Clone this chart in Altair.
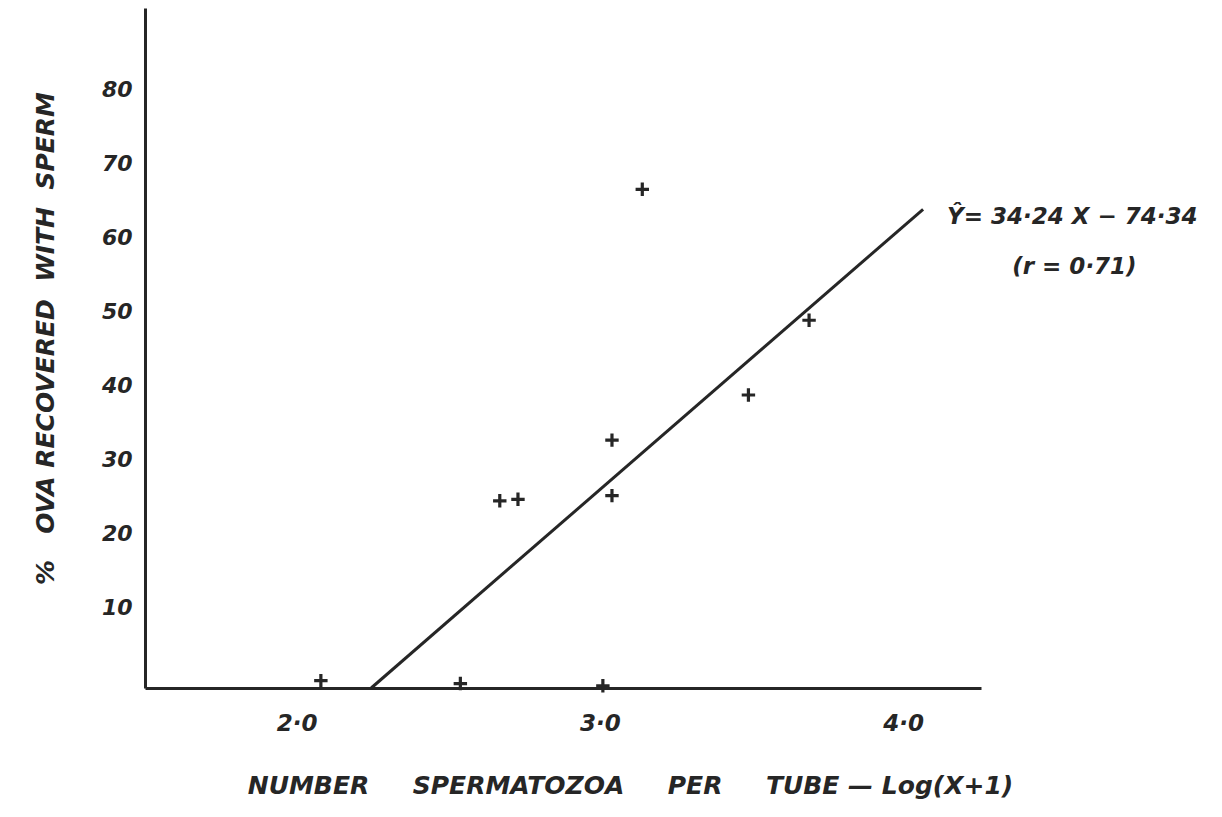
import altair as alt
import pandas as pd

# Observed points (log10 sperm count + 1, % ova recovered with sperm)
log_sperm = [2.08, 2.54, 3.01, 2.67, 2.73, 3.04, 3.04, 3.14, 3.49, 3.69]
pct_ova = [1.0, 0.6, 0.3, 25.3, 25.5, 26.0, 33.5, 67.4, 39.6, 49.7]

# Regression line endpoints as drawn
line_x = [2.246, 4.066]
line_y = [0.0, 64.7]

x_ticks = [2.0, 3.0, 4.0]
y_ticks = [10, 20, 30, 40, 50, 60, 70, 80]

eq_text = ["Ŷ= 34·24 X − 74·34", "(r = 0·71)"]
eq_x = [4.145, 4.36]
eq_y = [63.6, 56.9]

pts = pd.DataFrame({"x": log_sperm, "y": pct_ova})
ln = pd.DataFrame({"x": line_x, "y": line_y})
ann = pd.DataFrame({"t": eq_text, "x": eq_x, "y": eq_y})

FONT = "DejaVu Sans"
INK = "#262626"
SP = "\u00a0"

x_title = (SP * 5).join(["NUMBER", "SPERMATOZOA", "PER", "TUBE"]) + SP + "— Log(X+1)"
y_title = "%" + SP * 3 + "OVA RECOVERED" + SP * 2 + "WITH" + SP * 2 + "SPERM"

xscale = alt.Scale(domain=[1.5, 4.257], nice=False, zero=False)
yscale = alt.Scale(domain=[0, 91.9], nice=False, zero=False)

xaxis = alt.Axis(
    values=x_ticks,
    labelExpr="replace(format(datum.value, '.1f'), '.', '·')",
    ticks=False, grid=False,
    domainColor=INK, domainWidth=3,
    labelFont=FONT, labelFontSize=23, labelFontStyle="italic", labelFontWeight="bold",
    labelColor=INK, labelPadding=24,
    title=x_title,
    titleFont=FONT, titleFontSize=25, titleFontStyle="italic", titleFontWeight="bold",
    titleColor=INK, titleX=485, titleY=97, titleAlign="center", titleBaseline="middle",
)
yaxis = alt.Axis(
    values=y_ticks,
    ticks=False, grid=False,
    domainColor=INK, domainWidth=3,
    labelFont=FONT, labelFontSize=22, labelFontStyle="italic", labelFontWeight="bold",
    labelColor=INK, labelPadding=13, labelOffset=-7,
    title=y_title,
    titleFont=FONT, titleFontSize=25, titleFontStyle="italic", titleFontWeight="bold",
    titleColor=INK, titleX=-100, titleY=330, titleAngle=-90, titleAlign="center",
    titleBaseline="middle",
)

points = alt.Chart(pts).mark_point(
    shape="M-1,0H1M0,-1V1", filled=False, stroke=INK, strokeWidth=3.2, size=180, opacity=1
).encode(
    x=alt.X("x:Q", scale=xscale, axis=xaxis),
    y=alt.Y("y:Q", scale=yscale, axis=yaxis),
)

reg = alt.Chart(ln).mark_line(color=INK, strokeWidth=3).encode(
    x=alt.X("x:Q", scale=xscale), y=alt.Y("y:Q", scale=yscale)
)

txt = alt.Chart(ann).mark_text(
    font=FONT, fontSize=23, fontStyle="italic", fontWeight="bold",
    align="left", baseline="middle", color=INK
).encode(
    x=alt.X("x:Q", scale=xscale), y=alt.Y("y:Q", scale=yscale), text="t:N"
)

chart = alt.layer(reg, points, txt).properties(
    width=836, height=680,
    background="white",
    autosize=alt.AutoSizeParams(type="none"),
    padding={"left": 137, "top": 0, "right": 232, "bottom": 120},
).configure_view(strokeOpacity=0, strokeWidth=0)

chart.save("out.html", embed_options={"renderer": "svg", "actions": False})
